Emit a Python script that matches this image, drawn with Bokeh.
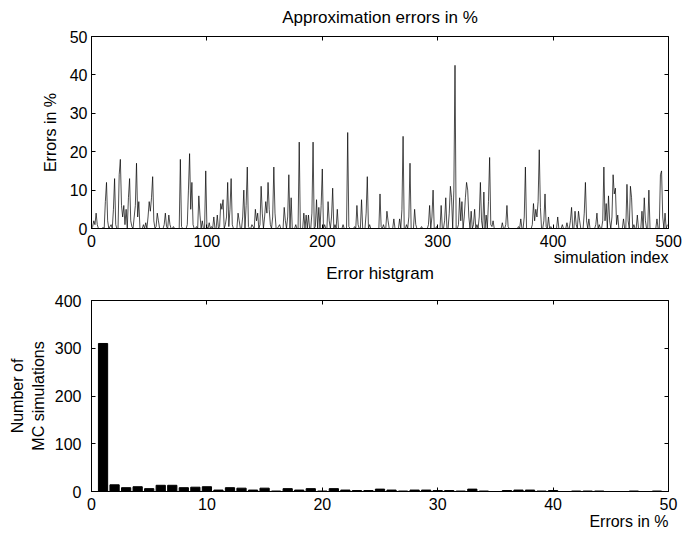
from bokeh.plotting import figure
from bokeh.layouts import column
from bokeh.models import Range1d, LinearAxis, FixedTicker, Title
from bokeh.embed import file_html
from bokeh.resources import INLINE

# ---------------- data ----------------
errors = [
    0, 0.5, 2, 1, 4, 1, 0, 0, 0, 0, 0.3, 0, 7, 12, 2, 0, 0.5, 1, 0, 5,
    13, 1, 0, 0, 14, 18, 6, 3, 6, 1, 5, 0, 8, 13, 2, 0.5, 0, 3, 6, 17,
    3, 7, 0, 0, 0, 1, 0, 1.5, 0, 3, 7, 4.5, 8, 13.5, 2, 0, 0.5, 4, 2, 0,
    0, 0, 0, 1, 4, 0.5, 0, 3.5, 1, 0, 0, 0.5, 0, 0, 0, 0, 0, 18, 0.5, 0,
    0, 0, 0, 1, 10, 19.5, 5, 12, 1, 0, 0, 0.5, 0, 8.5, 3.5, 0, 2, 0, 0, 15,
    0.5, 0, 1.5, 0, 0.5, 0, 3, 0, 0, 3.5, 0, 0.5, 6.5, 5, 7.5, 0, 1, 3, 12, 0.5,
    5, 13, 1, 0, 0, 0, 0, 4, 2, 0, 0, 3, 10, 0, 6, 16, 0.5, 0, 0, 1,
    0.5, 0, 5, 2, 4, 0, 1, 11, 4, 0, 3, 7, 4, 12, 5, 1, 0, 3, 16, 4,
    0, 0, 0.5, 1, 0, 0, 0, 5.5, 2, 0, 3, 14, 0, 8, 0, 0, 0, 1, 0, 0,
    22.5, 0, 0, 0, 4, 0, 3.5, 0, 3.5, 0, 0, 4, 22.5, 0, 0.5, 7.5, 0, 5.5, 0, 6,
    15.5, 0, 1, 0, 0, 7, 2, 0, 3, 10.5, 0, 1, 0, 5, 0, 0, 0, 0, 1, 0,
    0, 0, 25, 0.5, 0, 0, 0, 0, 0.5, 0, 6, 1, 0, 0, 7.5, 0, 0, 0, 4, 13.5,
    0, 1, 0, 0, 0, 0, 0, 0, 0, 0, 9, 0.5, 0, 1, 0, 0, 4.5, 2, 0, 0,
    0, 0, 2.5, 0, 0, 0, 0, 2.5, 0, 5, 24, 0, 0, 1, 0, 3, 17, 0, 0, 0,
    5, 1, 0, 0, 0, 0, 0.5, 0, 0, 0, 0, 0, 1, 6, 0, 3, 10, 0, 0, 0.5,
    0, 0, 0, 6, 0, 0, 2, 8, 0, 0, 4, 11, 8, 0, 10, 42.5, 0, 0, 1, 8,
    2, 7, 0, 3, 8, 12, 10, 3, 0, 4.5, 0, 1, 5, 0, 1, 0, 3, 12, 2, 0,
    9.5, 0, 3.5, 0, 7, 18.5, 1, 0.5, 2, 0, 0, 0, 0, 0, 0, 0, 1.5, 0, 0, 1,
    6, 0.5, 0, 0, 0, 0, 0, 0, 0, 0, 0.5, 0, 2.5, 0, 0, 3, 16, 0, 0, 0,
    0, 0, 1, 6.5, 2, 5, 3, 7, 20.5, 5.5, 0, 0, 2, 9, 0.5, 0, 3, 0, 0.5, 0,
    0, 0, 0, 0, 3, 0, 0, 0, 1, 0, 0, 0, 1.5, 0, 0, 2, 5.5, 0, 0, 4.5,
    1, 0, 4.5, 2, 0, 0, 0, 4, 12, 2, 0, 2.5, 0, 0, 0, 0, 0, 1, 4, 0,
    1, 0, 0, 2, 16, 2, 6.5, 0, 8.5, 2, 0, 3, 14, 9, 10.5, 1, 3.5, 0, 0, 0,
    0, 2.5, 0, 0, 11.5, 2, 0, 11, 8, 0, 1, 0, 0, 3.5, 0, 0, 0, 4.5, 0, 8,
    2, 0, 0, 10, 0, 0, 0, 0, 0, 0, 2.5, 0, 0, 14, 15, 3, 0, 4, 0, 1,
]
sim_index = list(range(len(errors)))

hist_centers = list(range(1, 50))
hist_counts = [310, 14, 8, 10, 6, 13, 13, 8, 9, 10, 3, 8, 7, 3, 7, 1, 6, 3, 6, 1,
               6, 3, 2, 2, 5, 3, 1, 3, 3, 2, 2, 1, 5, 1, 0, 2, 3, 3, 1, 2,
               0, 1, 1, 1, 0, 0, 1, 0, 1]

top_xticks = [0, 100, 200, 300, 400, 500]
top_yticks = [0, 10, 20, 30, 40, 50]
bot_xticks = [0, 10, 20, 30, 40, 50]
bot_yticks = [0, 100, 200, 300, 400]

FONT = "Liberation Sans"
FS = "16px"      # ticks and axis labels
FS_T = "17px"    # titles


def set_standoff(t, s, fallback=0):
    try:
        t.standoff = s
    except Exception:
        t.standoff = fallback


def make_title(text, align, standoff, size):
    t = Title(text=text, align=align, vertical_align="top", text_font=FONT,
              text_font_size=size, text_font_style="normal", text_color="black")
    set_standoff(t, standoff)
    return t


def style(p, xticks, yticks, ylab_standoff, ylabel_standoff):
    p.outline_line_color = "black"
    p.outline_line_width = 1
    p.xgrid.visible = False
    p.ygrid.visible = False
    p.xaxis.ticker = FixedTicker(ticks=xticks)
    p.yaxis.ticker = FixedTicker(ticks=yticks)
    for ax in [p.xaxis[0], p.yaxis[0]]:
        ax.major_tick_in = 4
        ax.major_tick_out = 0
        ax.minor_tick_line_color = None
        ax.axis_line_color = "black"
        ax.major_tick_line_color = "black"
        ax.major_label_text_font = FONT
        ax.major_label_text_font_size = FS
        ax.major_label_text_color = "black"
        ax.axis_label_text_font = FONT
        ax.axis_label_text_font_size = FS
        ax.axis_label_text_font_style = "normal"
        ax.axis_label_text_color = "black"
    p.xaxis.major_label_standoff = 6
    p.yaxis.major_label_standoff = ylab_standoff
    p.yaxis.axis_label_standoff = ylabel_standoff
    # mirrored inward ticks on top and right (boxed axes)
    for side, tks in (("above", xticks), ("right", yticks)):
        ax = LinearAxis(ticker=FixedTicker(ticks=tks), major_tick_in=4, major_tick_out=0,
                        minor_tick_line_color=None, axis_line_color=None,
                        major_label_text_font_size="0px", major_label_text_alpha=0,
                        major_label_standoff=0)
        p.add_layout(ax, side)


# ---------------- top: error series ----------------
p1 = figure(width=682, height=288, output_backend="svg", toolbar_location=None,
            x_range=Range1d(0, 500), y_range=Range1d(0, 50),
            min_border_left=91, min_border_right=14, min_border_top=36, min_border_bottom=60)
p1.line(sim_index, errors, line_color="black", line_width=0.7)
p1.yaxis.axis_label = "Errors in %"
style(p1, top_xticks, top_yticks, 4, 8)
p1.title.text = "Approximation errors in %"
p1.title.align = "center"
p1.title.vertical_align = "top"
p1.title.text_font = FONT
p1.title.text_font_size = FS_T
p1.title.text_font_style = "normal"
p1.title.text_color = "black"
set_standoff(p1.title, 15, 10)
p1.add_layout(make_title("simulation index", "right", -2, FS), "below")
p1.add_layout(make_title("Error histgram", "center", -6, FS_T), "below")

# ---------------- bottom: histogram ----------------
p2 = figure(width=682, height=248, output_backend="svg", toolbar_location=None,
            x_range=Range1d(0, 50), y_range=Range1d(0, 400),
            min_border_left=91, min_border_right=14, min_border_top=12, min_border_bottom=45)
p2.vbar(x=hist_centers, top=hist_counts, width=0.8, fill_color="black", line_color="black")
p2.yaxis.axis_label = "Number of\nMC simulations"
style(p2, bot_xticks, bot_yticks, 10, 5)
p2.add_layout(make_title("Errors in %", "right", 0, FS), "below")

layout = column(p1, p2, spacing=0)
open("out.html", "w").write(file_html(layout, INLINE))
